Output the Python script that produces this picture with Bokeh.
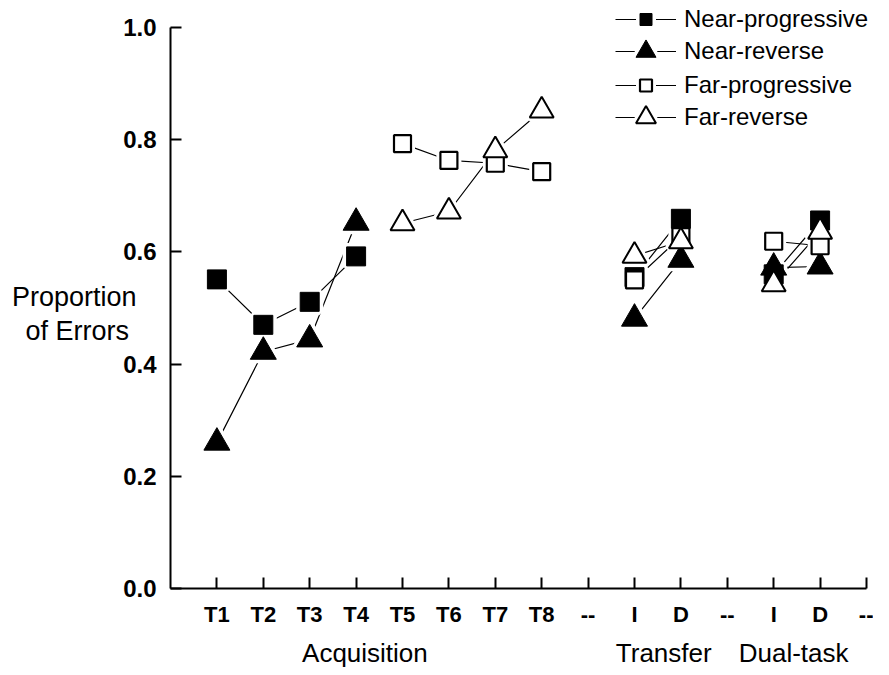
from bokeh.plotting import figure
from bokeh.models import (Range1d, FixedTicker, PrintfTickFormatter, Legend,
                          LegendItem, LinearAxis)
from bokeh.embed import file_html
from bokeh.resources import INLINE

nan = float("nan")

# ---- data -----------------------------------------------------------------
positions = list(range(1, 16))
tick_labels = ["T1", "T2", "T3", "T4", "T5", "T6", "T7", "T8", "--",
               "I", "D", "--", "I", "D", "--"]

near_progressive = [0.551, 0.470, 0.511, 0.592, nan, nan, nan, nan, nan,
                    0.555, 0.659, nan, 0.560, 0.656, nan]
near_reverse = [0.260, 0.422, 0.444, 0.652, nan, nan, nan, nan, nan,
                0.481, 0.586, nan, 0.572, 0.574, nan]
far_progressive = [nan, nan, nan, nan, 0.793, 0.763, 0.758, 0.743, nan,
                   0.550, 0.627, nan, 0.619, 0.611, nan]
far_reverse = [nan, nan, nan, nan, 0.651, 0.672, 0.781, 0.852, nan,
               0.593, 0.619, nan, 0.542, 0.636, nan]

series_names = ["Near-progressive", "Near-reverse", "Far-progressive", "Far-reverse"]
series_values = [near_progressive, near_reverse, far_progressive, far_reverse]

group_names = ["Acquisition", "Transfer", "Dual-task"]
group_centers = [4.19, 10.63, 13.43]

y_ticks = [0.0, 0.2, 0.4, 0.6, 0.8, 1.0]
y_title_lines = ["Proportion", "of Errors\u00a0"]
y_title_at = [0.519, 0.459]

# ---- styles ---------------------------------------------------------------
styles = [
    dict(marker="square", size=19, fill_color="black", line_width=1, leg_h=30),
    dict(marker="triangle", size=26, fill_color="black", line_width=1, leg_h=50),
    dict(marker="square", size=17, fill_color="white", line_width=2.2, leg_h=30),
    dict(marker="triangle", size=24, fill_color="white", line_width=2, leg_h=50),
]

FONT = "Liberation Sans"
FRAME_H = 588
PX_X = 696 / 15.0      # pixels per category step
PX_Y = 561.0           # pixels per unit of proportion

p = figure(frame_width=703, frame_height=FRAME_H,
           min_border_left=170, min_border_right=0,
           min_border_top=0, min_border_bottom=71,
           x_range=Range1d(0, 703 / PX_X), y_range=Range1d(0, FRAME_H / PX_Y),
           output_backend="svg", toolbar_location=None,
           background_fill_color="white", border_fill_color="white")
p.outline_line_color = None
p.grid.visible = False

# main axes
p.xaxis.ticker = FixedTicker(ticks=positions)
p.xaxis.major_label_overrides = {pos: lab for pos, lab in zip(positions, tick_labels)}
p.xaxis.bounds = (0, 15)
p.yaxis.ticker = FixedTicker(ticks=y_ticks)
p.yaxis.formatter = PrintfTickFormatter(format="%.1f")
p.yaxis.bounds = (0, 1.0)
for ax in (p.xaxis, p.yaxis):
    ax.axis_line_width = 2
    ax.axis_line_color = "black"
    ax.major_tick_line_width = 2
    ax.major_tick_line_color = "black"
    ax.major_tick_in = 11
    ax.major_tick_out = 0
    ax.minor_tick_line_color = None
    ax.major_label_text_font = FONT
    ax.major_label_text_font_style = "bold"
    ax.major_label_text_color = "black"
p.xaxis.major_label_text_font_size = "22px"
p.xaxis.major_label_standoff = 13
p.yaxis.major_label_text_font_size = "24px"
p.yaxis.major_label_standoff = 14

# group captions below the tick labels (a second, line-less x axis)
group_axis = LinearAxis(ticker=FixedTicker(ticks=group_centers),
                        major_label_overrides={c: n for c, n in zip(group_centers, group_names)},
                        axis_line_color=None, major_tick_line_color=None,
                        minor_tick_line_color=None, major_label_standoff=2,
                        major_label_text_font=FONT, major_label_text_font_size="26px",
                        major_label_text_color="black")
p.add_layout(group_axis, "below")

# horizontal two-line y title (a second, line-less y axis)
title_axis = LinearAxis(ticker=FixedTicker(ticks=y_title_at),
                        major_label_overrides={v: t for v, t in zip(y_title_at, y_title_lines)},
                        axis_line_color=None, major_tick_line_color=None,
                        minor_tick_line_color=None, major_label_standoff=-22,
                        major_label_text_font=FONT, major_label_text_font_size="27px",
                        major_label_text_color="black")
p.add_layout(title_axis, "left")

# lines first
line_rs = []
for vals in series_values:
    line_rs.append(p.line(positions, vals, line_color="black", line_width=1.2))

# white halos to open gaps in the lines around the markers
halo_rs = []
for vals, st in zip(series_values, styles):
    halo_rs.append(p.scatter(positions, vals, marker=st["marker"], size=st["size"],
                             fill_color="white", line_color="white", line_width=8))

# markers
marker_rs = []
for vals, st in zip(series_values, styles):
    marker_rs.append(p.scatter(positions, vals, marker=st["marker"], size=st["size"],
                               fill_color=st["fill_color"], line_color="black",
                               line_width=st["line_width"]))

# legends (one per entry, so the marker sizes can differ)
row_centers = [19, 51, 85, 117]
for name, lr, hr, mr, st, c in zip(series_names, line_rs, halo_rs, marker_rs,
                                   styles, row_centers):
    g = st["leg_h"]
    leg = Legend(items=[LegendItem(label=name, renderers=[lr, hr, mr])],
                 location=(445, FRAME_H - c - g / 2),
                 glyph_width=61, glyph_height=g, padding=0, margin=0, spacing=0,
                 label_standoff=8, label_text_font=FONT,
                 label_text_font_size="24px", label_text_color="black",
                 border_line_color=None, background_fill_alpha=0)
    p.add_layout(leg)

open("out.html", "w").write(file_html(p, INLINE))
